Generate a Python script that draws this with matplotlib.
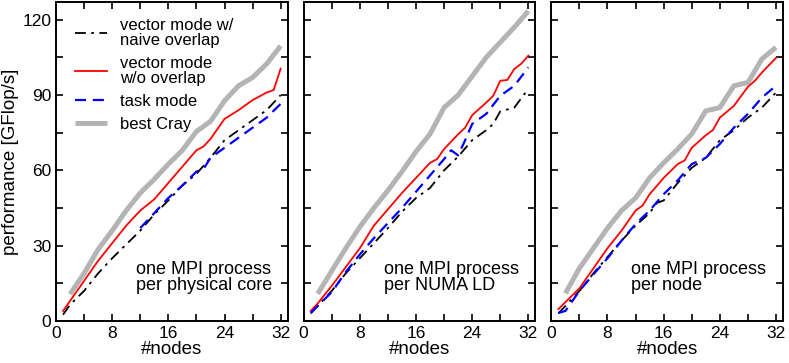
import matplotlib.pyplot as plt
from matplotlib.ticker import MultipleLocator

plt.rcParams["font.family"] = ["Liberation Sans", "DejaVu Sans"]

# panel 1: one MPI process per physical core
naive1_x = [1, 2, 4, 6, 8, 10, 12, 14, 16, 18, 20, 22, 24, 26, 28, 30, 32]
naive1 = [2.5, 6.5, 12, 19, 25, 30.5, 36, 42.5, 48, 54, 58.6, 65, 72, 76, 80, 84, 90]
noov1_x = [1, 2, 4, 6, 8, 10, 12, 14, 16, 18, 20, 21, 22, 24, 26, 28, 30, 31, 32]
noov1 = [4, 8, 16, 24, 31, 38, 44, 48.5, 55, 61.5, 68, 69.5, 72.5, 80.5, 84, 88, 91, 92, 100.5]
task1_x = [12, 13, 14, 16, 18, 20, 21, 22, 24, 26, 28, 30, 32]
task1 = [37, 40, 43, 49, 54, 59.5, 60.5, 65, 69, 73, 77, 81, 86.5]
cray1_x = [2, 4, 6, 8, 10, 12, 14, 16, 18, 20, 22, 24, 26, 28, 30, 32]
cray1 = [10.7, 19, 28.5, 36, 44, 51, 56.5, 62.5, 68, 75.5, 79.5, 87.7, 93.7, 97, 102.4, 109.6]

# panel 2: one MPI process per NUMA LD
naive2_x = [1, 2, 4, 6, 8, 10, 12, 14, 16, 18, 20, 22, 24, 26, 27, 28, 30, 32]
naive2 = [3, 6, 12, 19, 25, 31, 37, 43.5, 49, 53, 60, 65.5, 72, 76, 78.5, 83.5, 85, 92.5]
noov2_x = [1, 2, 4, 6, 8, 10, 12, 14, 16, 18, 19, 20, 22, 23, 24, 26, 27, 28, 29, 30, 31, 32]
noov2 = [4, 7, 14, 21.5, 29, 38, 44.5, 51, 57, 63, 64.5, 68.5, 74.4, 77, 82, 87, 89.7,
         95.7, 96, 100.4, 102.5, 105.7]
task2_x = [1, 2, 4, 6, 8, 10, 12, 14, 16, 18, 20, 21, 22, 23, 24, 26, 28, 30, 32]
task2 = [3.2, 6, 11.5, 19.5, 26.5, 33, 39, 45, 51.5, 58, 64.5, 68, 66, 72, 78.5, 82.5,
         89.7, 93.7, 101]
cray2_x = [2, 4, 6, 8, 10, 12, 14, 16, 18, 20, 22, 24, 26, 28, 30, 32]
cray2 = [10.8, 20, 29, 37.5, 45, 52, 59.5, 67.5, 74.5, 85, 90, 97.5, 105, 111, 117, 123.5]

# panel 3: one MPI process per node
naive3_x = [1, 2, 4, 6, 8, 10, 12, 14, 15, 16, 18, 20, 22, 24, 26, 28, 30, 32]
naive3 = [3, 6, 12, 19, 25.5, 32, 38, 43, 47, 48, 55, 61, 65, 72, 76, 81, 85, 91]
noov3_x = [1, 2, 4, 6, 8, 10, 12, 13, 14, 16, 18, 19, 20, 22, 23, 24, 26, 28, 29, 30, 32]
noov3 = [4.7, 7.5, 13, 21, 29, 36, 44, 46, 50.5, 57, 62.5, 64, 69, 74, 76, 81, 85.7,
         93.3, 95.7, 99, 104.8]
task3_x = [1, 2, 4, 6, 8, 10, 12, 14, 16, 18, 20, 22, 24, 26, 28, 30, 32]
task3 = [3.2, 4, 12, 18.6, 25, 32, 38.6, 44, 50.5, 56, 62.5, 65, 70.5, 77, 82.5, 89, 93.7]
cray3_x = [2, 4, 6, 8, 10, 12, 14, 16, 18, 20, 22, 24, 26, 28, 30, 32]
cray3 = [11, 21, 29, 37, 44, 49, 57, 63, 68.5, 74.5, 83.7, 85, 93.7, 95, 104.4, 109]

labels = ["vector mode w/\nnaive overlap", "vector mode\nw/o overlap", "task mode", "best Cray"]
notes = ["one MPI process\nper physical core", "one MPI process\nper NUMA LD",
         "one MPI process\nper node"]
panels = [
    (naive1_x, naive1, noov1_x, noov1, task1_x, task1, cray1_x, cray1),
    (naive2_x, naive2, noov2_x, noov2, task2_x, task2, cray2_x, cray2),
    (naive3_x, naive3, noov3_x, noov3, task3_x, task3, cray3_x, cray3),
]

fig, axes = plt.subplots(1, 3, figsize=(7.89, 3.63), dpi=100, sharey=True)
fig.subplots_adjust(left=0.071, right=0.9924, top=0.994, bottom=0.1157, wspace=0.069)

for i, ax in enumerate(axes):
    nx, nv, ox, ov, tx, tv, cx, cv = panels[i]
    ax.plot(nx, nv, color="black", lw=1.3, dashes=(6, 3, 1.5, 3), label=labels[0])
    ax.plot(ox, ov, color="red", lw=1.3, label=labels[1])
    ax.plot(tx, tv, color="blue", lw=1.6, dashes=(5, 3), label=labels[2])
    ax.plot(cx, cv, color="#b4b4b4", lw=3.6, solid_capstyle="butt", label=labels[3], zorder=1)

    ax.set_xlim(0, 33)
    ax.set_ylim(0, 127)
    ax.xaxis.set_major_locator(MultipleLocator(8))
    ax.xaxis.set_minor_locator(MultipleLocator(4))
    ax.yaxis.set_major_locator(MultipleLocator(30))
    ax.yaxis.set_minor_locator(MultipleLocator(15))
    ax.tick_params(which="both", direction="in", top=True, right=True,
                   length=5, width=1.2, labelsize=12.5)
    for s in ax.spines.values():
        s.set_linewidth(1.4)
    ax.set_xlabel("#nodes", fontsize=13.5, labelpad=0)
    ax.text(0.345, 0.085, notes[i], transform=ax.transAxes, fontsize=13,
            va="bottom", ha="left", linespacing=0.95)

axes[0].set_ylabel("performance [GFlop/s]", fontsize=13.5, labelpad=2)
leg = axes[0].legend(loc="upper left", frameon=False, fontsize=12, handlelength=1.9,
                     handletextpad=0.75, labelspacing=0.5, borderaxespad=0.0,
                     bbox_to_anchor=(0.055, 0.97))
for t in leg.get_texts():
    t.set_linespacing(0.95)

fig.savefig("out.png", dpi=100)
